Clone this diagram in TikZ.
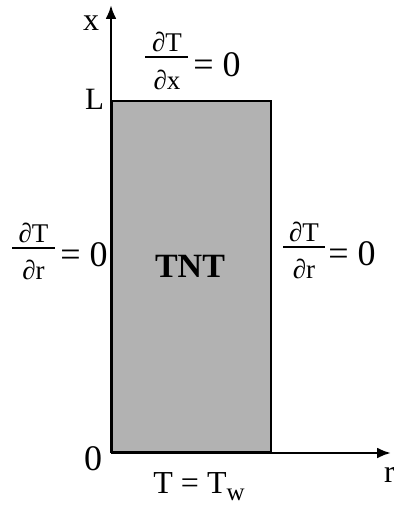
\documentclass[tikz,border=0pt]{standalone}
\usepackage{fontspec}
\setmainfont{Liberation Serif}
\usetikzlibrary{arrows.meta}
\newcommand{\fsz}[1]{\fontsize{#1}{#1}\selectfont}
\begin{document}
\begin{tikzpicture}[x=1pt,y=-1pt,
  axis/.style={line width=2.6pt,-{Latex[length=14pt,width=11pt]}},
  slab/.style={draw=black,fill=black!30,line width=2.4pt,inner sep=0pt,
    minimum width=159pt,minimum height=350.5pt,anchor=south west},
  lbl/.style={inner sep=0pt,font=\fsz{31}},
  zero/.style={inner sep=0pt,font=\fsz{36}},
  fracpart/.style={inner sep=0pt,font=\fsz{27}},
  fracbar/.style={line width=1.7pt},
  tnt/.style={inner sep=0pt,font=\fsz{34}\bfseries}]
\useasboundingbox (0,0) rectangle (393,505);
\coordinate (O) at (111,453);
\coordinate (xtip) at (111,5);
\coordinate (rtip) at (391,453);
\node[slab] (rect) at (O) {};
\node[tnt] (tntlabel) at (190,266.5) {TNT};
\draw[axis] (O) -- (xtip);
\draw[axis] (O) -- (rtip);
% axis labels
\node[lbl,font=\fsz{32}] (xlabel) at (91,23.5) {x};
\node[lbl] (Llabel) at (94.5,99) {L};
\node[zero] (zerolabel) at (93,458.5) {0};
\node[lbl,font=\fsz{32},anchor=base west] (rlabel) at (384,482) {r};
% top condition
\node[fracpart] (tnum) at (167,41.5) {∂T};
\coordinate (tbl) at (145,57);
\coordinate (tbr) at (188,57);
\draw[fracbar] (tbl) -- (tbr);
\node[fracpart] (tden) at (167,80) {∂x};
\node[zero] (teq) at (217,65) {= 0};
% left condition
\node[fracpart] (lnum) at (33.5,232.5) {∂T};
\coordinate (lbl) at (12,248);
\coordinate (lbr) at (55,248);
\draw[fracbar] (lbl) -- (lbr);
\node[fracpart] (lden) at (33.5,270) {∂r};
\node[zero] (leq) at (84,254.5) {= 0};
% right condition
\node[fracpart] (rnum) at (304,231.5) {∂T};
\coordinate (rbl) at (283,247);
\coordinate (rbr) at (325,247);
\draw[fracbar] (rbl) -- (rbr);
\node[fracpart] (rden) at (304,269) {∂r};
\node[zero] (req) at (352,253.5) {= 0};
% bottom condition
\node[lbl,font=\fsz{32},anchor=base] (bcond) at (199,493)
  {T = T\raisebox{-7pt}{\fsz{25}w}};
\end{tikzpicture}
\end{document}
